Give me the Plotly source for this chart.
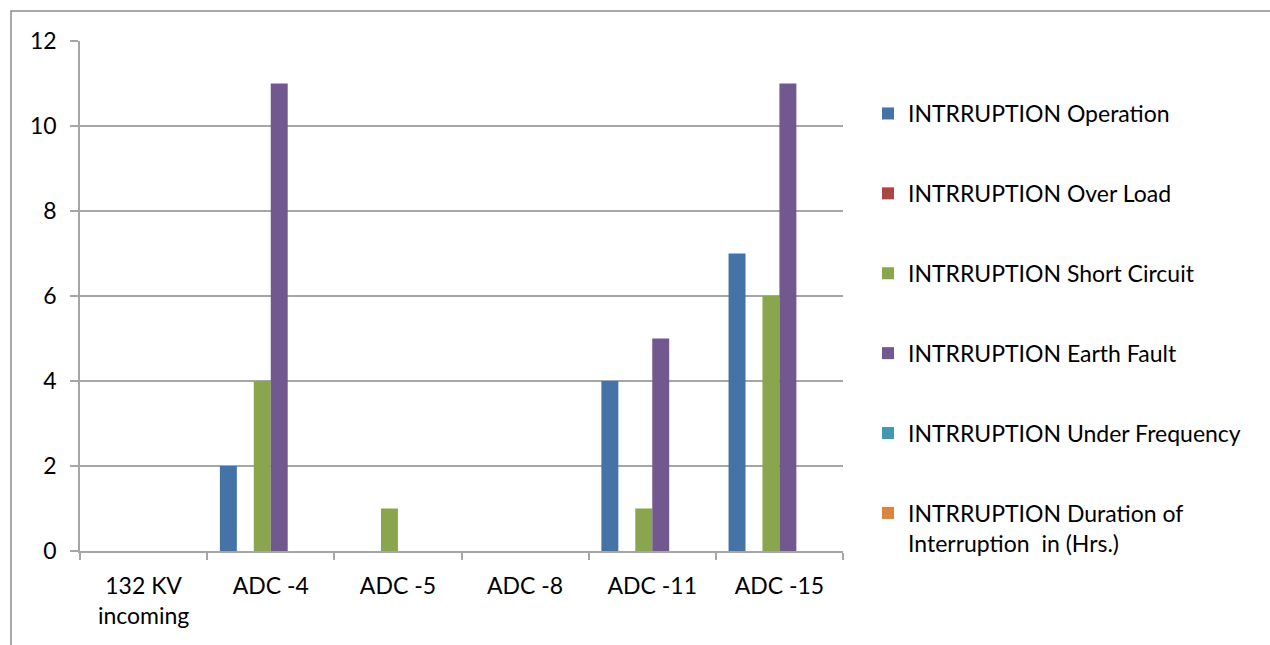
import plotly.graph_objects as go

# Feeders / categories on the x axis
categories = ["132 KV<br>incoming", "ADC -4", "ADC -5", "ADC -8", "ADC -11", "ADC -15"]

# Interruption counts per feeder, one list per interruption type
operation = [0, 2, 0, 0, 4, 7]
over_load = [0, 0, 0, 0, 0, 0]
short_circuit = [0, 4, 1, 0, 1, 6]
earth_fault = [0, 11, 0, 0, 5, 11]
under_frequency = [0, 0, 0, 0, 0, 0]
duration_hrs = [0, 0, 0, 0, 0, 0]

series_names = [
    "INTRRUPTION Operation",
    "INTRRUPTION Over Load",
    "INTRRUPTION Short Circuit",
    "INTRRUPTION Earth Fault",
    "INTRRUPTION Under Frequency",
    "INTRRUPTION Duration of<br>Interruption  in (Hrs.)",
]
series_values = [operation, over_load, short_circuit, earth_fault, under_frequency, duration_hrs]
series_colors = ["#4572A7", "#AA4643", "#89A54E", "#71588F", "#4198AF", "#DB843D"]

y_ticks = [0, 2, 4, 6, 8, 10, 12]

FONT = "Lato"
FS = 23
W, H = 1270, 645
L, R, T, B = 80, 843, 41, 551

fig = go.Figure()
for i, (name, vals, col) in enumerate(zip(series_names, series_values, series_colors)):
    fig.add_trace(go.Bar(
        x=categories, y=vals, name=name,
        marker=dict(color=col, line=dict(width=0)),
        legendgroup=f"g{i}",
    ))

grid_col = "#a6a6a6"
fig.update_layout(
    width=W, height=H,
    margin=dict(l=L, r=W - R, t=T, b=H - B, pad=0),
    paper_bgcolor="white", plot_bgcolor="white",
    barmode="group", bargap=0.2, bargroupgap=0,
    font=dict(family=FONT, size=FS, color="#000000"),
    showlegend=True,
    legend=dict(
        x=(868 - L) / (R - L), xanchor="left",
        y=(B - 92) / (B - T), yanchor="top",
        font=dict(family=FONT, size=FS, color="#000000"),
        tracegroupgap=47, itemwidth=30, valign="top",
        bgcolor="rgba(0,0,0,0)",
    ),
    xaxis=dict(
        type="category", tickson="boundaries",
        ticks="outside", ticklen=7, tickcolor=grid_col, tickwidth=1.5,
        showline=True, linecolor=grid_col, linewidth=1.5,
        showgrid=False, ticklabelstandoff=14,
    ),
    yaxis=dict(
        range=[0, 12], tickvals=y_ticks,
        ticks="outside", ticklen=8, tickcolor=grid_col, tickwidth=1.5,
        showline=True, linecolor=grid_col, linewidth=1.5,
        showgrid=True, gridcolor=grid_col, gridwidth=1.5,
        zeroline=False, ticklabelstandoff=9,
    ),
)

# Outer chart frame
fig.add_shape(
    type="rect", xref="paper", yref="paper",
    x0=(11 - L) / (R - L), x1=(W + 20 - L) / (R - L),
    y0=(B - (H + 20)) / (B - T), y1=(B - 11) / (B - T),
    line=dict(color="#8c8c8c", width=1.5), fillcolor="rgba(0,0,0,0)",
    layer="below",
)

fig.write_html("out.html")
